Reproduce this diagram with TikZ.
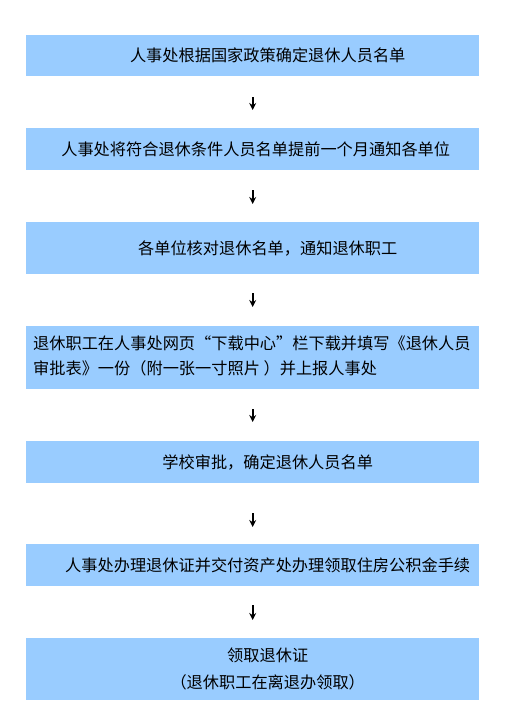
\documentclass[tikz,border=0pt]{standalone}
\usepackage{fontspec}
\newfontfamily\cjk{Noto Sans CJK SC}
\usetikzlibrary{arrows.meta}
\definecolor{boxblue}{HTML}{99CCFF}
\tikzset{
  flowbox/.style={draw=none, fill=boxblue, inner sep=0pt, anchor=north west},
  flowtext/.style={inner sep=0pt, font=\cjk\fontsize{16.2}{25}\selectfont, text=black},
  flowarrow/.style={-{Stealth[length=7pt,width=7pt]}, line width=1.7pt, black}
}
\begin{document}
\begin{tikzpicture}[x=1pt,y=-1pt]
\fill[white] (0,0) rectangle (519,718);
\useasboundingbox (0,0) rectangle (519,718);
% boxes
\node[flowbox, minimum width=453pt, minimum height=41pt] (b1) at (26,35) {};
\node[flowbox, minimum width=453pt, minimum height=42pt] (b2) at (26,128) {};
\node[flowbox, minimum width=453pt, minimum height=52pt] (b3) at (26,222) {};
\node[flowbox, minimum width=453pt, minimum height=63pt] (b4) at (26,326) {};
\node[flowbox, minimum width=453pt, minimum height=42pt] (b5) at (26,441) {};
\node[flowbox, minimum width=453pt, minimum height=42pt] (b6) at (26,544) {};
\node[flowbox, minimum width=453pt, minimum height=62pt] (b7) at (26,638) {};
% texts
\node[flowtext] (t1) at ([xshift=15pt]b1.center) {人事处根据国家政策确定退休人员名单};
\node[flowtext] (t2) at ([xshift=3pt]b2.center) {人事处将符合退休条件人员名单提前一个月通知各单位};
\node[flowtext] (t3) at ([xshift=15pt]b3.center) {各单位核对退休名单，通知退休职工};
\node[flowtext, anchor=west, align=left] (t4) at (33,356) {退休职工在人事处网页“下载中心”栏下载并填写《退休人员\\审批表》一份（附一张一寸照片 ）并上报人事处};
\node[flowtext] (t5) at ([xshift=15pt]b5.center) {学校审批，确定退休人员名单};
\node[flowtext] (t6) at ([xshift=15pt]b6.center) {人事处办理退休证并交付资产处办理领取住房公积金手续};
\node[flowtext, align=center, font=\cjk\fontsize{16.2}{27}\selectfont] (t7) at ([xshift=15pt]b7.center) {领取退休证\\（退休职工在离退办领取）};
% arrows
\draw[flowarrow, shorten <=21pt, shorten >=18pt] (b1.south) -- (b2.north);
\draw[flowarrow, shorten <=20pt, shorten >=18pt] (b2.south) -- (b3.north);
\draw[flowarrow, shorten <=19pt, shorten >=19pt] (b3.south) -- (b4.north);
\draw[flowarrow, shorten <=20pt, shorten >=19pt] (b4.south) -- (b5.north);
\draw[flowarrow, shorten <=30pt, shorten >=17pt] (b5.south) -- (b6.north);
\draw[flowarrow, shorten <=19pt, shorten >=18pt] (b6.south) -- (b7.north);
\end{tikzpicture}
\end{document}
